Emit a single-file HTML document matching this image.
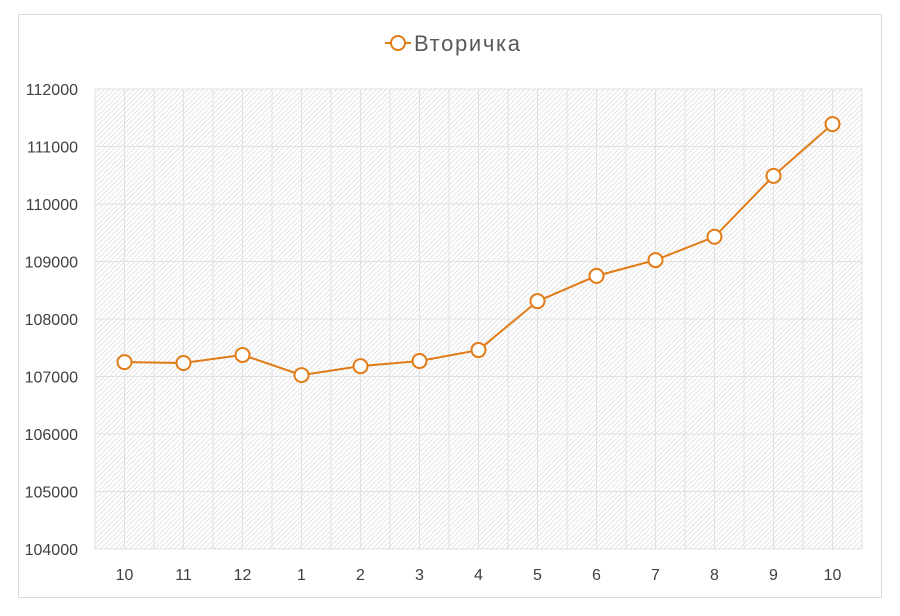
<!DOCTYPE html>
<html><head><meta charset="utf-8"><style>
body{margin:0;background:#fff;font-family:"Liberation Sans",sans-serif}
</style></head><body>
<svg id="chart" width="900" height="611" xmlns="http://www.w3.org/2000/svg">
<defs>
<pattern id="hatch" width="3.5" height="3.5" patternUnits="userSpaceOnUse" patternTransform="rotate(45)">
<rect width="3.5" height="3.5" fill="#fff"/><line x1="0" y1="0" x2="0" y2="3.5" stroke="#d6d6d6" stroke-width="1.3"/>
</pattern>
</defs>
<rect x="18.5" y="14.5" width="863" height="583" fill="#fff" stroke="#d9d9d9"/>
<g>
<line x1="385" y1="43" x2="411" y2="43" stroke="#e07b16" stroke-width="2"/>
<circle cx="398" cy="43" r="7" fill="#fff" stroke="#e07b16" stroke-width="2"/>
<text x="414" y="51" font-size="22" textLength="106" fill="#595959">Вторичка</text>
</g>
<g id="plot"></g>
</svg>
<script>
const categories=["10","11","12","1","2","3","4","5","6","7","8","9","10"];
const values=[107250,107235,107375,107025,107180,107270,107460,108310,108750,109025,109430,110490,111390];
const yTicks=[104000,105000,106000,107000,108000,109000,110000,111000,112000];
const L=95,R=862,T=89,B=549,yMin=104000,yMax=112000;
const step=(R-L)/categories.length;
const x=i=>L+step*(i+0.5);
const y=v=>B-(v-yMin)/(yMax-yMin)*(B-T);
const NS="http://www.w3.org/2000/svg";
const g=document.getElementById('plot');
function mk(t,a){const e=document.createElementNS(NS,t);for(const k in a)e.setAttribute(k,a[k]);g.appendChild(e);return e;}
let bg=mk('rect',{x:L,y:T,width:R-L,height:B-T,fill:'url(#hatch)'});


for(let i=0;i<=categories.length*2;i++){const xx=L+step*i/2;let l=mk('line',{x1:xx,x2:xx,y1:T,y2:B,stroke:'#e0e0e0','stroke-width':1});

}
yTicks.forEach(v=>{let l=mk('line',{x1:L,x2:R,y1:y(v),y2:y(v),stroke:'#e0e0e0','stroke-width':1});


let t=mk('text',{x:78,y:y(v)+6,'text-anchor':'end','font-size':16,fill:'#404040'});t.textContent=v;

});
categories.forEach((c,i)=>{let t=mk('text',{x:x(i),y:580,'text-anchor':'middle','font-size':16,fill:'#404040'});t.textContent=c;

});
let p=mk('polyline',{points:values.map((v,i)=>x(i)+','+y(v)).join(' '),fill:'none',stroke:'#e07b16','stroke-width':2});


values.forEach((v,i)=>{let c=mk('circle',{cx:x(i),cy:y(v),r:7,fill:'#fff',stroke:'#e07b16','stroke-width':2});

});
</script>
</body></html>
